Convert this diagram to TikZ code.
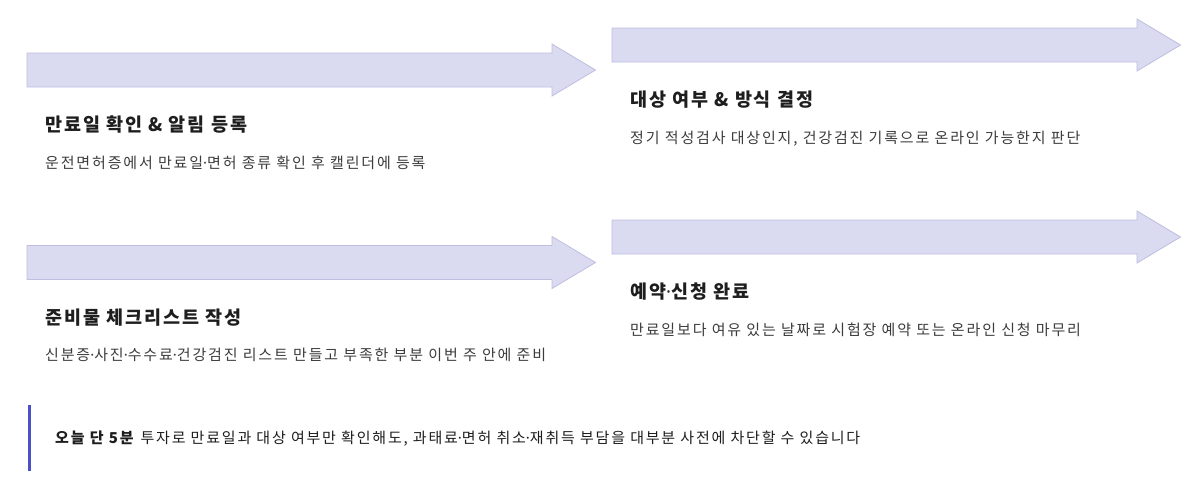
\documentclass[tikz,border=0pt]{standalone}
\usepackage{xcolor}
\usepackage{fontspec}
\usepackage{tikz}
\usetikzlibrary{positioning, calc}
\setmainfont{Noto Sans CJK KR}
\newfontfamily\dotfont{Noto Sans}
\newcommand{\middot}{{\dotfont ·}}
\definecolor{bandfill}{RGB}{218,218,240}
\definecolor{bandline}{RGB}{190,190,225}
\definecolor{markbar}{RGB}{76,80,200}
\definecolor{titletext}{RGB}{30,30,30}
\definecolor{desctext}{RGB}{60,60,60}
\tikzset{
  band/.style={fill=bandfill, draw=bandline, line width=0.8pt},
  bandarrow/.pic={
    \draw[band] (0,-17) -- (525,-17) -- (525,-26) -- (568.5,0)
      -- (525,26) -- (525,17) -- (0,17) -- cycle;
  },
  steptitle/.style={anchor=base west, inner sep=0pt, text=titletext,
    font=\bfseries\fontsize{18.5}{22}\selectfont\addfontfeatures{LetterSpace=10.5}},
  stepdesc/.style={anchor=base west, inner sep=0pt, text=desctext,
    font=\fontsize{15}{18}\selectfont\addfontfeatures{LetterSpace=12.3}},
  notetext/.style={anchor=base west, inner sep=0pt, text=titletext,
    font=\fontsize{15}{18}\selectfont\addfontfeatures{LetterSpace=12}},
  notebar/.style={draw=markbar, line width=3pt}
}
\begin{document}
\begin{tikzpicture}[x=1pt, y=-1pt]
  \useasboundingbox[fill=white] (0,0) rectangle (1197,482);

  % step arrows
  \pic at (27,70) {bandarrow};
  \pic at (612,45) {bandarrow};
  \pic at (27,262.5) {bandarrow};
  \pic at (612,237) {bandarrow};

  % step texts
  \node[steptitle] (t1) at (45,131.5) {만료일 확인 \& 알림 등록};
  \node[stepdesc] (d1) at (45,168) {운전면허증에서 만료일\middot 면허 종류 확인 후 캘린더에 등록};
  \node[steptitle] (t2) at (630,106.5) {대상 여부 \& 방식 결정};
  \node[stepdesc] (d2) at (630,143) {정기 적성검사 대상인지, 건강검진 기록으로 온라인 가능한지 판단};
  \node[steptitle] (t3) at (45,324) {준비물 체크리스트 작성};
  \node[stepdesc] (d3) at (45,360.5) {신분증\middot 사진\middot 수수료\middot 건강검진 리스트 만들고 부족한 부분 이번 주 안에 준비};
  \node[steptitle] (t4) at (630,298.5) {예약\middot 신청 완료};
  \node[stepdesc] (d4) at (630,335) {만료일보다 여유 있는 날짜로 시험장 예약 또는 온라인 신청 마무리};

  % note
  \coordinate (b1) at (29.5,405);
  \coordinate (b2) at (29.5,471);
  \draw[notebar] (b1) -- (b2);
  \node[notetext] (note) at (55,443) {\textbf{오늘 단 5분} 투자로 만료일과 대상 여부만 확인해도, 과태료\middot 면허 취소\middot 재취득 부담을 대부분 사전에 차단할 수 있습니다};
\end{tikzpicture}
\end{document}
